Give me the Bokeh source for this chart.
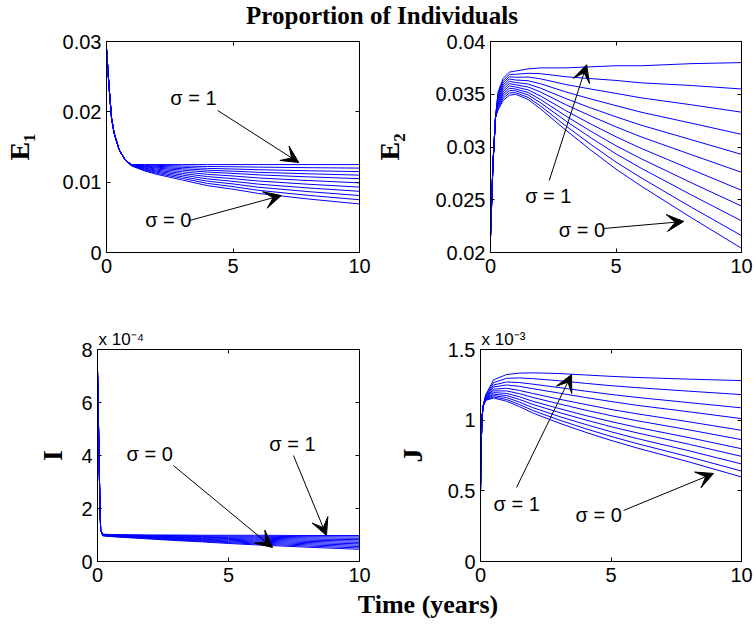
from bokeh.plotting import figure
from bokeh.layouts import column, row
from bokeh.models import Range1d, FixedTicker, LinearAxis, Label, Arrow, VeeHead
from bokeh.embed import file_html
from bokeh.resources import INLINE

# ---------------- data ----------------
SIGMA = [0.0, 0.1, 0.2, 0.3, 0.4, 0.5, 0.6, 0.7, 0.8, 0.9, 1.0]

X_TICKS = [0, 5, 10]
X_TICK_LABELS = ["0", "5", "10"]

# E1 : all curves share the early decay, then fan out (rows: sigma = 0 ... 1)
T_E1_EARLY = [0, 0.1, 0.2, 0.3, 0.5, 0.75]
E1_EARLY = [0.0290, 0.0236, 0.0191, 0.0170, 0.0146, 0.0131]
T_E1_LATE = [1, 1.5, 2, 3, 4, 5, 6, 8, 10]
E1_LATE = [
    [0.01230, 0.01160, 0.01110, 0.01030, 0.00950, 0.00900, 0.00840, 0.00760, 0.00690],
    [0.01232, 0.01170, 0.01125, 0.01054, 0.00982, 0.00937, 0.00884, 0.00812, 0.00750],
    [0.01234, 0.01179, 0.01140, 0.01077, 0.01014, 0.00975, 0.00928, 0.00865, 0.00810],
    [0.01236, 0.01189, 0.01155, 0.01101, 0.01046, 0.01012, 0.00972, 0.00917, 0.00870],
    [0.01239, 0.01199, 0.01170, 0.01124, 0.01079, 0.01050, 0.01016, 0.00970, 0.00930],
    [0.01241, 0.01208, 0.01185, 0.01148, 0.01111, 0.01088, 0.01060, 0.01023, 0.00990],
    [0.01243, 0.01218, 0.01200, 0.01171, 0.01143, 0.01125, 0.01104, 0.01075, 0.01050],
    [0.01245, 0.01226, 0.01212, 0.01191, 0.01170, 0.01156, 0.01140, 0.01119, 0.01100],
    [0.01246, 0.01234, 0.01225, 0.01211, 0.01196, 0.01187, 0.01177, 0.01162, 0.01150],
    [0.01248, 0.01242, 0.01238, 0.01230, 0.01223, 0.01219, 0.01214, 0.01206, 0.01200],
    [0.01250, 0.01250, 0.01250, 0.01250, 0.01250, 0.01250, 0.01250, 0.01250, 0.01250],
]
E1_TICKS = [0, 0.01, 0.02, 0.03]
E1_TICK_LABELS = ["0", "0.01", "0.02", "0.03"]

# E2
T_E2_EARLY = [0, 0.1, 0.2]
E2_EARLY = [0.0215, 0.0285, 0.0328]
T_E2_LATE = [0.3, 0.5, 0.75, 1, 1.5, 2, 3, 4, 5, 6, 8, 10]
E2_LATE = [
    [0.03350, 0.03440, 0.03490, 0.03500, 0.03450, 0.03360, 0.03160, 0.02970, 0.02790, 0.02630, 0.02330, 0.02040],
    [0.03367, 0.03461, 0.03512, 0.03515, 0.03470, 0.03387, 0.03200, 0.03024, 0.02857, 0.02708, 0.02429, 0.02160],
    [0.03384, 0.03482, 0.03534, 0.03533, 0.03493, 0.03418, 0.03247, 0.03087, 0.02935, 0.02799, 0.02546, 0.02300],
    [0.03401, 0.03503, 0.03556, 0.03550, 0.03516, 0.03449, 0.03294, 0.03149, 0.03012, 0.02889, 0.02661, 0.02440],
    [0.03418, 0.03524, 0.03578, 0.03569, 0.03541, 0.03482, 0.03345, 0.03217, 0.03097, 0.02987, 0.02787, 0.02590],
    [0.03435, 0.03545, 0.03600, 0.03590, 0.03569, 0.03520, 0.03401, 0.03293, 0.03191, 0.03096, 0.02927, 0.02760],
    [0.03452, 0.03566, 0.03622, 0.03611, 0.03597, 0.03557, 0.03459, 0.03370, 0.03286, 0.03207, 0.03069, 0.02930],
    [0.03469, 0.03587, 0.03644, 0.03635, 0.03628, 0.03599, 0.03522, 0.03455, 0.03392, 0.03330, 0.03226, 0.03120],
    [0.03486, 0.03608, 0.03666, 0.03661, 0.03663, 0.03646, 0.03592, 0.03549, 0.03508, 0.03466, 0.03400, 0.03330],
    [0.03503, 0.03629, 0.03688, 0.03689, 0.03699, 0.03695, 0.03666, 0.03648, 0.03631, 0.03608, 0.03583, 0.03550],
    [0.03520, 0.03650, 0.03710, 0.03720, 0.03740, 0.03750, 0.03750, 0.03760, 0.03770, 0.03770, 0.03790, 0.03800],
]
E2_TICKS = [0.02, 0.025, 0.03, 0.035, 0.04]
E2_TICK_LABELS = ["0.02", "0.025", "0.03", "0.035", "0.04"]

# I  (values in units of 1e-4)
T_I_EARLY = [0, 0.03, 0.06, 0.09, 0.12]
I_EARLY = [7.2, 5.6, 3.9, 2.3, 1.2]
T_I_LATE = [0.2, 0.5, 1, 2, 3, 4, 5, 6, 8, 10]
I_LATE = [
    [0.970, 0.940, 0.910, 0.850, 0.790, 0.740, 0.680, 0.630, 0.540, 0.460],
    [0.976, 0.948, 0.920, 0.865, 0.811, 0.765, 0.711, 0.666, 0.584, 0.512],
    [0.982, 0.956, 0.930, 0.880, 0.832, 0.790, 0.742, 0.702, 0.628, 0.564],
    [0.988, 0.964, 0.940, 0.895, 0.853, 0.815, 0.773, 0.738, 0.672, 0.616],
    [0.994, 0.972, 0.950, 0.910, 0.874, 0.840, 0.804, 0.774, 0.716, 0.668],
    [1.000, 0.980, 0.960, 0.925, 0.895, 0.865, 0.835, 0.810, 0.760, 0.720],
    [1.006, 0.988, 0.970, 0.940, 0.916, 0.890, 0.866, 0.846, 0.804, 0.772],
    [1.012, 0.996, 0.980, 0.955, 0.937, 0.915, 0.897, 0.882, 0.848, 0.824],
    [1.018, 1.004, 0.990, 0.970, 0.958, 0.940, 0.928, 0.918, 0.892, 0.876],
    [1.024, 1.012, 1.000, 0.985, 0.979, 0.965, 0.959, 0.954, 0.936, 0.928],
    [1.030, 1.020, 1.010, 1.000, 1.000, 0.990, 0.990, 0.990, 0.980, 0.980],
]
I_TICKS = [0, 2, 4, 6, 8]
I_TICK_LABELS = ["0", "2", "4", "6", "8"]

# J  (values in units of 1e-3)
T_J_EARLY = [0, 0.03, 0.06, 0.1]
J_EARLY = [0.50, 0.85, 1.02, 1.10]
T_J_LATE = [0.2, 0.5, 1, 1.5, 2, 3, 4, 5, 6, 8, 10]
J_LATE = [
    [1.140, 1.157, 1.134, 1.095, 1.051, 0.980, 0.916, 0.857, 0.803, 0.704, 0.598],
    [1.142, 1.165, 1.146, 1.110, 1.069, 1.002, 0.941, 0.885, 0.834, 0.740, 0.640],
    [1.145, 1.174, 1.160, 1.127, 1.089, 1.027, 0.971, 0.918, 0.870, 0.783, 0.690],
    [1.149, 1.184, 1.174, 1.146, 1.112, 1.055, 1.003, 0.954, 0.910, 0.829, 0.744],
    [1.152, 1.195, 1.189, 1.165, 1.134, 1.083, 1.034, 0.990, 0.949, 0.876, 0.798],
    [1.156, 1.207, 1.207, 1.187, 1.161, 1.116, 1.072, 1.032, 0.996, 0.931, 0.862],
    [1.159, 1.219, 1.226, 1.210, 1.189, 1.149, 1.112, 1.076, 1.045, 0.988, 0.928],
    [1.164, 1.235, 1.249, 1.239, 1.223, 1.192, 1.161, 1.132, 1.105, 1.059, 1.011],
    [1.169, 1.249, 1.270, 1.266, 1.255, 1.231, 1.206, 1.182, 1.161, 1.124, 1.087],
    [1.174, 1.266, 1.296, 1.299, 1.294, 1.279, 1.261, 1.244, 1.230, 1.205, 1.181],
    [1.180, 1.285, 1.323, 1.333, 1.335, 1.330, 1.320, 1.310, 1.302, 1.290, 1.280],
]
J_TICKS = [0, 0.5, 1, 1.5]
J_TICK_LABELS = ["0", "0.5", "1", "1.5"]

# ---------------- styling helpers ----------------
TICK_FONT = "Liberation Sans"
SERIF = "Liberation Serif"
BLUE = "#0000ff"


def panel(width, height, bl, br, bt, bb, yr, yticks, ylabels, ylabel, ylabel_standoff, mult=None):
    p = figure(width=width, height=height, x_range=Range1d(0, 10), y_range=Range1d(*yr),
               output_backend="svg", toolbar_location=None,
               min_border_left=bl, min_border_right=br, min_border_top=bt, min_border_bottom=bb,
               title=mult)
    p.grid.visible = False
    p.background_fill_color = "white"
    p.border_fill_color = "white"
    p.outline_line_color = "black"
    p.outline_line_alpha = 1.0
    xa = p.xaxis[0]
    ya = p.yaxis[0]
    xa.ticker = FixedTicker(ticks=X_TICKS)
    xa.major_label_overrides = dict(zip(X_TICKS, X_TICK_LABELS))
    ya.ticker = FixedTicker(ticks=yticks)
    ya.major_label_overrides = dict(zip(yticks, ylabels))
    for ax, so in ((xa, 6), (ya, 5)):
        ax.major_label_text_font = TICK_FONT
        ax.major_label_text_font_size = "20px"
        ax.major_label_text_color = "black"
        ax.major_tick_in = 4
        ax.major_tick_out = 0
        ax.minor_tick_line_color = None
        ax.axis_line_color = "black"
        ax.major_tick_line_color = "black"
        ax.major_label_standoff = so
    ya.axis_label = ylabel
    ya.axis_label_text_font = SERIF
    ya.axis_label_text_font_style = "bold"
    ya.axis_label_text_font_size = "28px"
    ya.axis_label_text_color = "black"
    ya.axis_label_standoff = ylabel_standoff
    top = LinearAxis(ticker=FixedTicker(ticks=X_TICKS),
                     major_label_overrides={t: "" for t in X_TICKS},
                     major_label_text_font_size="1px",
                     major_label_standoff=0, major_tick_in=4, major_tick_out=0,
                     minor_tick_line_color=None, axis_line_color="black")
    right = LinearAxis(ticker=FixedTicker(ticks=yticks),
                       major_label_overrides={t: "" for t in yticks},
                       major_label_text_font_size="1px",
                       major_label_standoff=0, major_tick_in=4, major_tick_out=0,
                       minor_tick_line_color=None, axis_line_color="black")
    p.add_layout(top, "above")
    p.add_layout(right, "right")
    if mult is not None:
        p.title.align = "left"
        p.title.text_font = TICK_FONT
        p.title.text_font_style = "normal"
        p.title.text_font_size = "17px"
        p.title.text_color = "black"
        p.title.standoff = 2
        p.title.offset = 1
    return p


def curves(p, t_early, v_early, t_late, rows):
    for r in rows:
        p.line(t_early + t_late, v_early + r, line_color=BLUE, line_width=1)


def note(p, x, y, text, ax0, ay0, ax1, ay1):
    p.add_layout(Label(x=x, y=y, text=text, text_font=TICK_FONT, text_font_size="20px",
                       text_align="left", text_baseline="middle", text_color="black"))
    p.add_layout(Arrow(end=VeeHead(size=17, fill_color="black", line_color="black", line_width=1),
                       x_start=ax0, y_start=ay0, x_end=ax1, y_end=ay1,
                       line_color="black", line_width=1))


# ---------------- panels ----------------
p1 = panel(371, 270, 97, 12, 11, 48, (0, 0.03), E1_TICKS, E1_TICK_LABELS, "E₁", 25)
curves(p1, T_E1_EARLY, E1_EARLY, T_E1_LATE, E1_LATE)
note(p1, 2.52, 0.0219, "σ = 1", 4.39, 0.0202, 7.60, 0.0128)
note(p1, 1.53, 0.00455, "σ = 0", 3.28, 0.00455, 6.91, 0.0081)

p2 = panel(385, 270, 109, 15, 11, 48, (0.02, 0.04), E2_TICKS, E2_TICK_LABELS, "E₂", 27)
curves(p2, T_E2_EARLY, E2_EARLY, T_E2_LATE, E2_LATE)
note(p2, 1.38, 0.0254, "σ = 1", 2.34, 0.02682, 3.83, 0.0378)
note(p2, 2.72, 0.02209, "σ = 0", 4.48, 0.02227, 7.70, 0.02294)

p3 = panel(371, 291, 97, 12, 49, 30, (0, 8), I_TICKS, I_TICK_LABELS, "I", 10, "x 10⁻⁴")
curves(p3, T_I_EARLY, I_EARLY, T_I_LATE, I_LATE)
note(p3, 1.11, 4.04, "σ = 0", 2.90, 3.62, 6.68, 0.53)
note(p3, 6.56, 4.45, "σ = 1", 7.48, 4.0, 8.74, 0.98)

p4 = panel(385, 291, 109, 15, 49, 30, (0, 1.5), J_TICKS, J_TICK_LABELS, "J", 17, "x 10⁻³")
curves(p4, T_J_EARLY, J_EARLY, T_J_LATE, J_LATE)
note(p4, 0.50, 0.41, "σ = 1", 1.38, 0.524, 3.49, 1.323)
note(p4, 3.64, 0.326, "σ = 0", 5.48, 0.361, 8.93, 0.623)


def text_strip(width, height, x, y, text, size, baseline):
    f = figure(width=width, height=height, x_range=Range1d(0, width), y_range=Range1d(0, height),
               output_backend="svg", toolbar_location=None, min_border=0, title=None,
               x_axis_type=None, y_axis_type=None)
    f.grid.visible = False
    f.outline_line_color = None
    f.background_fill_color = "white"
    f.border_fill_color = "white"
    f.add_layout(Label(x=x, y=y, text=text, text_font=SERIF, text_font_style="bold",
                       text_font_size=size, text_align="center", text_baseline=baseline,
                       text_color="black"))
    return f


title_fig = text_strip(756, 30, 381.5, 15, "Proportion of Individuals", "25px", "middle")
xlabel_fig = text_strip(756, 32, 427.5, 19, "Time (years)", "26px", "alphabetic")

layout = column(title_fig, row(p1, p2), row(p3, p4), xlabel_fig)

open("out.html", "w").write(file_html(layout, INLINE))
